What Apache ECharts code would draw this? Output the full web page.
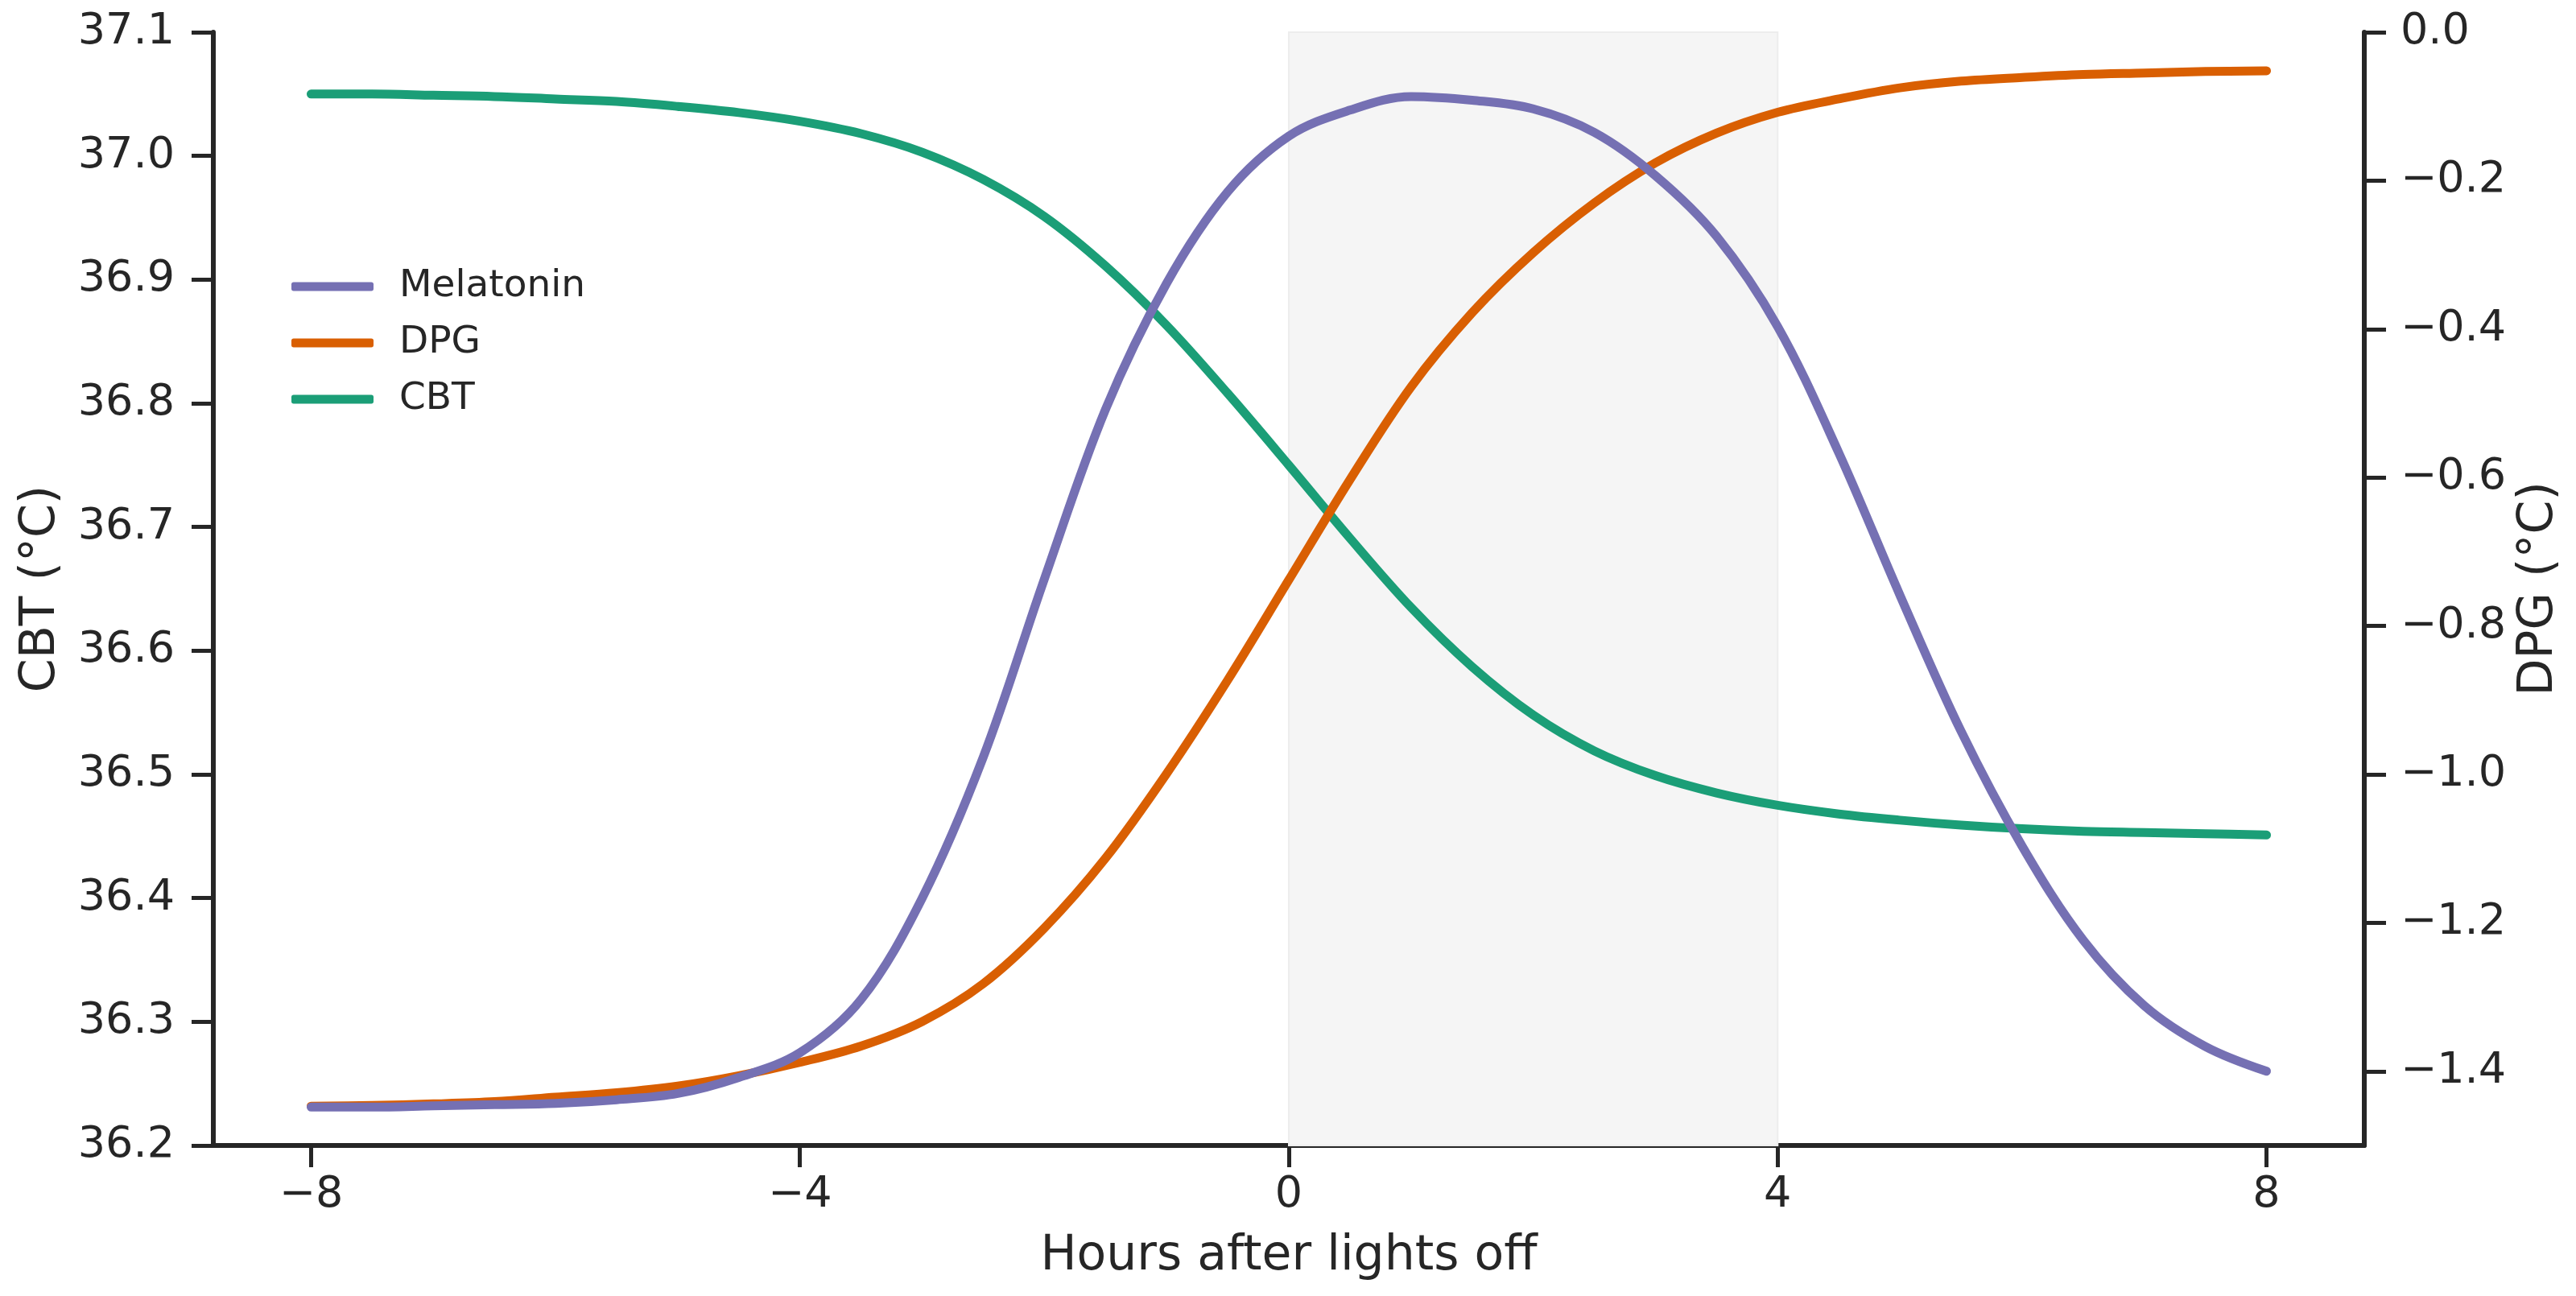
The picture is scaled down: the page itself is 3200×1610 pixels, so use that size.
<!DOCTYPE html>
<html>
<head>
<meta charset="utf-8">
<script src="https://cdn.jsdelivr.net/npm/echarts@6/dist/echarts.min.js"></script>
<style>
html,body{margin:0;padding:0;background:#fff;}
#chart{width:3200px;height:1610px;}
</style>
</head>
<body>
<div id="chart"></div>
<script>
// Hours after lights off
const hours = [-8,-7.5,-7,-6.5,-6,-5.5,-5,-4.5,-4,-3.5,-3,-2.5,-2,-1.5,-1,-0.5,0,0.5,1,1.5,2,2.5,3,3.5,4,4.5,5,5.5,6,6.5,7,7.5,8];
// Melatonin (scaled onto CBT axis)
const melatonin = [36.231,36.231,36.232,36.233,36.234,36.237,36.242,36.255,36.275,36.318,36.400,36.514,36.658,36.795,36.897,36.971,37.016,37.037,37.048,37.045,37.038,37.019,36.984,36.935,36.862,36.760,36.645,36.535,36.442,36.366,36.313,36.280,36.260];
// Distal-proximal skin temperature gradient (°C)
const dpg = [-1.447,-1.446,-1.444,-1.441,-1.435,-1.429,-1.420,-1.406,-1.388,-1.366,-1.333,-1.282,-1.207,-1.113,-0.999,-0.873,-0.738,-0.603,-0.478,-0.378,-0.297,-0.230,-0.176,-0.136,-0.108,-0.090,-0.075,-0.066,-0.061,-0.057,-0.055,-0.053,-0.052];
// Core body temperature (°C)
const cbt = [37.050,37.050,37.049,37.048,37.046,37.044,37.040,37.035,37.028,37.018,37.003,36.981,36.951,36.911,36.863,36.808,36.750,36.691,36.635,36.587,36.548,36.519,36.499,36.485,36.475,36.468,36.463,36.459,36.456,36.454,36.453,36.452,36.451];
// Shaded sleep window
const shadeRange = [0, 4];
// Tick values
const xTicks = [-8,-4,0,4,8];
const leftTicks = [36.2,36.3,36.4,36.5,36.6,36.7,36.8,36.9,37.0,37.1];
const rightTicks = [-1.4,-1.2,-1.0,-0.8,-0.6,-0.4,-0.2,0.0];

const ink = '#262626';
const font = 'DejaVu Sans';
const pair = arr => hours.map((h, i) => [h, arr[i]]);
const minus = s => s.replace('-', '\u2212');

const chart = echarts.init(document.getElementById('chart'), null, {renderer: 'canvas'});
const axisCommon = {
  axisLine: {show: true, onZero: false, lineStyle: {color: ink, width: 6}},
  axisTick: {show: true, inside: false, length: 27, lineStyle: {color: ink, width: 5}},
  splitLine: {show: false},
  nameLocation: 'middle',
  nameTextStyle: {color: ink, fontFamily: font, fontSize: 60}
};
const lineSeries = (name, axis, values, color, z) => ({
  name: name, type: 'line', yAxisIndex: axis, data: pair(values),
  showSymbol: false, symbol: 'none', smooth: 0.35,
  lineStyle: {color: color, width: 11, cap: 'round', join: 'round'},
  itemStyle: {color: color},
  z: z
});
const cbtSeries = lineSeries('CBT', 0, cbt, '#1b9e77', 3);
cbtSeries.markArea = {
  silent: true,
  itemStyle: {color: '#f5f5f5', borderColor: '#ededed', borderWidth: 2},
  data: [[{xAxis: shadeRange[0]}, {xAxis: shadeRange[1]}]]
};
chart.setOption({
  animation: false,
  backgroundColor: '#ffffff',
  grid: {left: 265, right: 263, top: 40, bottom: 187, containLabel: false},
  legend: {
    orient: 'vertical',
    left: 357,
    top: 326,
    itemWidth: 102,
    itemHeight: 11,
    itemGap: 20,
    icon: 'roundRect',
    data: ['Melatonin', 'DPG', 'CBT'],
    textStyle: {color: ink, fontFamily: font, fontSize: 47, lineHeight: 50, padding: [0, 0, 0, 27]}
  },
  xAxis: Object.assign({}, axisCommon, {
    type: 'value',
    min: -8.8,
    max: 8.8,
    name: 'Hours after lights off',
    nameGap: 108,
    axisTick: Object.assign({}, axisCommon.axisTick, {customValues: xTicks}),
    axisLabel: {customValues: xTicks, color: ink, fontFamily: font, fontSize: 54, margin: 35,
      formatter: v => minus(String(v))}
  }),
  yAxis: [
    Object.assign({}, axisCommon, {
      type: 'value',
      position: 'left',
      min: 36.2,
      max: 37.1,
      name: 'CBT (°C)',
      nameGap: 184,
      axisTick: Object.assign({}, axisCommon.axisTick, {customValues: leftTicks}),
      axisLabel: {customValues: leftTicks, color: ink, fontFamily: font, fontSize: 54, margin: 48,
        formatter: v => Number(v).toFixed(1)}
    }),
    Object.assign({}, axisCommon, {
      type: 'value',
      position: 'right',
      min: -1.5,
      max: 0,
      name: 'DPG (°C)',
      nameGap: 186,
      axisTick: Object.assign({}, axisCommon.axisTick, {customValues: rightTicks}),
      axisLabel: {customValues: rightTicks, color: ink, fontFamily: font, fontSize: 54, margin: 45,
        formatter: v => minus(Number(v).toFixed(1)).replace('\u22120.0', '0.0')}
    })
  ],
  series: [
    cbtSeries,
    lineSeries('DPG', 1, dpg, '#d95f02', 4),
    lineSeries('Melatonin', 0, melatonin, '#7570b3', 5)
  ]
});
</script>
</body>
</html>
